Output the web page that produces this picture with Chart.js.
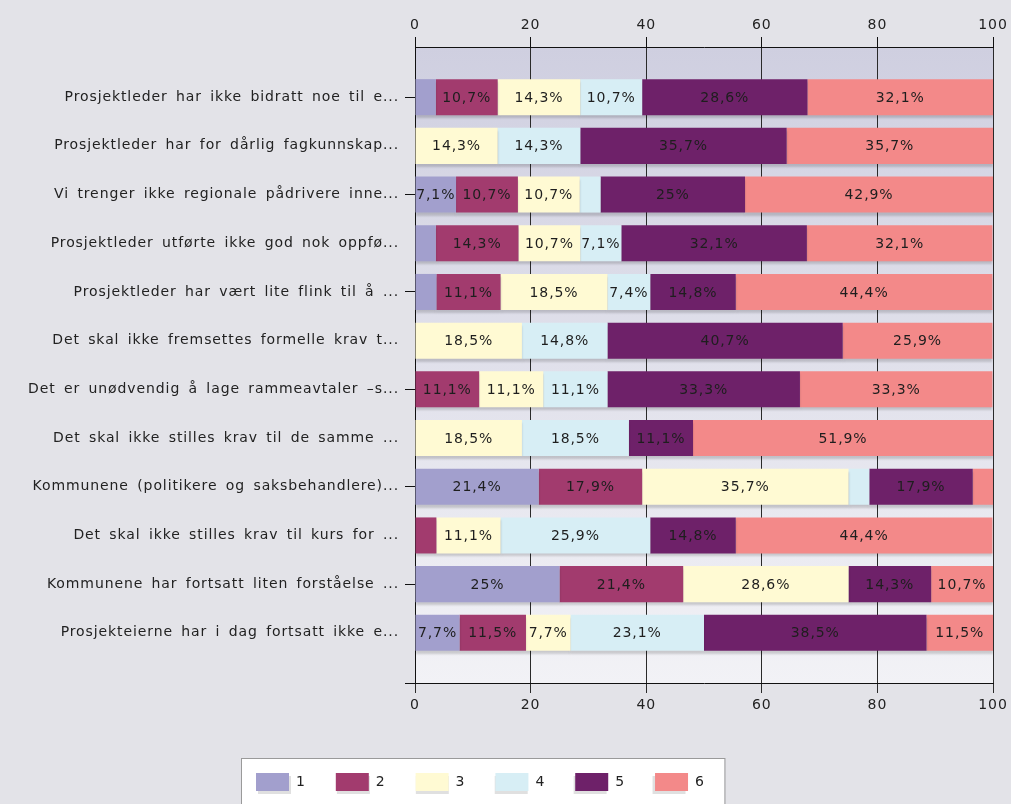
<!DOCTYPE html>
<html>
<head>
<meta charset="utf-8">
<script src="https://cdn.jsdelivr.net/npm/chart.js@4/dist/chart.umd.min.js"></script>
<style>
  html, body { margin: 0; padding: 0; background: #e3e3e8; }
  #wrap { width: 1011px; height: 804px; position: relative; }
</style>
</head>
<body>
<div id="wrap"><canvas id="chart"></canvas></div>
<script>
// Survey statements (shown truncated as in the original)
const statements = [
  'Prosjektleder har ikke bidratt noe til e...',
  'Prosjektleder har for dårlig fagkunnskap...',
  'Vi trenger ikke regionale pådrivere inne...',
  'Prosjektleder utførte ikke god nok oppfø...',
  'Prosjektleder har vært lite flink til å ...',
  'Det skal ikke fremsettes formelle krav t...',
  'Det er unødvendig å lage rammeavtaler –s...',
  'Det skal ikke stilles krav til de samme ...',
  'Kommunene (politikere og saksbehandlere)...',
  'Det skal ikke stilles krav til kurs for ...',
  'Kommunene har fortsatt liten forståelse ...',
  'Prosjekteierne har i dag fortsatt ikke e...'
];

// Share of answers (%) for each score 1..6
const score1 = [3.6, 0, 7.1, 3.6, 3.7, 0, 0, 0, 21.4, 0, 25, 7.7];
const score2 = [10.7, 0, 10.7, 14.3, 11.1, 0, 11.1, 0, 17.9, 3.7, 21.4, 11.5];
const score3 = [14.3, 14.3, 10.7, 10.7, 18.5, 18.5, 11.1, 18.5, 35.7, 11.1, 28.6, 7.7];
const score4 = [10.7, 14.3, 3.6, 7.1, 7.4, 14.8, 11.1, 18.5, 3.6, 25.9, 0, 23.1];
const score5 = [28.6, 35.7, 25, 32.1, 14.8, 40.7, 33.3, 11.1, 17.9, 14.8, 14.3, 38.5];
const score6 = [32.1, 35.7, 42.9, 32.1, 44.4, 25.9, 33.3, 51.9, 3.6, 44.4, 10.7, 11.5];

const seriesNames = ['1', '2', '3', '4', '5', '6'];
const seriesColors = ['#a29fcd', '#a23b6e', '#fffad3', '#d7eef5', '#6e2169', '#f38989'];
const xTicks = [0, 20, 40, 60, 80, 100];

const allSeries = [score1, score2, score3, score4, score5, score6];

function fmt(v) {
  return String(v).replace('.', ',') + '%';
}

// plot background gradient + white legend frame
const backdrop = {
  id: 'backdrop',
  afterLayout(chart) {
    // original legend sits a bit left of centre
    const lg = chart.legend;
    const pad = lg.options.labels.padding;
    const start = (lg.left + pad + lg.right - lg.lineWidths[0]) / 2;
    const shift = 256 - start;
    lg.left += shift;
    lg.right += shift;
  },
  beforeDraw(chart) {
    const {ctx, chartArea: a} = chart;
    ctx.save();
    const g = ctx.createLinearGradient(0, a.top, 0, a.bottom);
    g.addColorStop(0, '#cfcfe0');
    g.addColorStop(1, '#f2f2f6');
    ctx.fillStyle = g;
    ctx.fillRect(a.left, a.top, a.right - a.left, a.bottom - a.top);

    const hb = chart.legend.legendHitBoxes;
    if (hb && hb.length) {
      const last = hb[hb.length - 1];
      const x0 = hb[0].left - 15;
      const x1 = last.left + last.width + 25;
      const y0 = hb[0].top - 15;
      ctx.fillStyle = '#ffffff';
      ctx.fillRect(x0, y0, x1 - x0, chart.height - y0 + 5);
      ctx.strokeStyle = '#9a9a9a';
      ctx.lineWidth = 1;
      ctx.strokeRect(x0 + 0.5, y0 + 0.5, x1 - x0, chart.height - y0 + 5);
      // soft shadow under the legend swatches
      ctx.fillStyle = 'rgba(0,0,0,0.12)';
      hb.forEach(h => ctx.fillRect(h.left + 2, h.top + 3, 33, 18));
    }
    ctx.restore();
    // the original text is a little more loosely spaced
    ctx.letterSpacing = '0.9px';
    ctx.wordSpacing = '3px';
  },
  beforeDatasetsDraw(chart) {
    const ctx = chart.ctx;
    ctx.save();
    ctx.shadowColor = 'rgba(0,0,0,0.16)';
    ctx.shadowOffsetY = 3;
    ctx.shadowBlur = 2;
  },
  afterDatasetsDraw(chart) {
    const ctx = chart.ctx;
    ctx.restore();
    ctx.save();
    ctx.font = '14px "DejaVu Sans"';
    ctx.fillStyle = '#1e1e1e';
    ctx.textAlign = 'center';
    ctx.textBaseline = 'middle';
    chart.data.datasets.forEach((ds, di) => {
      const meta = chart.getDatasetMeta(di);
      meta.data.forEach((bar, i) => {
        const v = allSeries[di][i];
        if (v < 5) return;
        const p = bar.getProps(['x', 'base', 'y'], true);
        ctx.fillText(fmt(v), (p.x + p.base) / 2, p.y + 1);
      });
    });
    ctx.restore();
  }
};

const datasets = allSeries.map((vals, k) => ({
  label: seriesNames[k],
  data: vals.map((v, i) => ({x: v, y: i})),
  backgroundColor: seriesColors[k],
  borderWidth: 0,
  barPercentage: 0.74,
  categoryPercentage: 1
}));

Chart.defaults.font.family = '"DejaVu Sans", Verdana, sans-serif';
Chart.defaults.font.size = 14;
Chart.defaults.color = '#222';

const yMin = -1.03;
const yMax = 12.03;

new Chart(document.getElementById('chart'), {
  type: 'bar',
  data: { datasets },
  options: {
    indexAxis: 'y',
    responsive: true,
    maintainAspectRatio: false,
    animation: false,
    layout: { padding: { top: 0, right: 18, bottom: 3, left: 0 } },
    plugins: {
      tooltip: { enabled: false },
      legend: {
        position: 'bottom',
        labels: {
          boxWidth: 33,
          boxHeight: 18,
          padding: 30,
          color: '#222',
          font: { size: 14 }
        }
      }
    },
    scales: {
      x: {
        type: 'linear',
        position: 'bottom',
        stacked: true,
        min: 0,
        max: 100,
        afterBuildTicks(s) { s.ticks = xTicks.map(v => ({value: v})); },
        ticks: { padding: 4, color: '#222' },
        grid: { color: '#2a2a2a', tickLength: 10, drawOnChartArea: true },
        border: { color: '#111', width: 1 },
        afterFit(s) { s.height = 60; }
      },
      x2: {
        type: 'linear',
        position: 'top',
        min: 0,
        max: 100,
        afterBuildTicks(s) { s.ticks = xTicks.map(v => ({value: v})); },
        ticks: { padding: 3, color: '#222' },
        grid: { color: '#111', tickLength: 10, drawOnChartArea: false },
        border: { color: '#111', width: 1 },
        afterFit(s) { s.height = 47; }
      },
      y: {
        type: 'linear',
        stacked: true,
        reverse: true,
        offset: false,
        min: yMin,
        max: yMax,
        afterBuildTicks(s) {
          s.ticks = statements.map((_, i) => ({value: i}));
          s.ticks.push({value: yMax});
        },
        ticks: {
          padding: 6,
          color: '#222',
          autoSkip: false,
          callback: (v) => Number.isInteger(v) ? statements[v] : ''
        },
        grid: {
          offset: false,
          drawOnChartArea: false,
          tickLength: 10,
          color: (c) => {
            const v = c.tick ? c.tick.value : 1;
            return (v === yMax || v % 2 === 0) ? '#111' : 'rgba(0,0,0,0)';
          }
        },
        border: { color: '#111', width: 1 },
        afterFit(s) { s.width = 415; }
      }
    }
  },
  plugins: [backdrop]
});
</script>
</body>
</html>
